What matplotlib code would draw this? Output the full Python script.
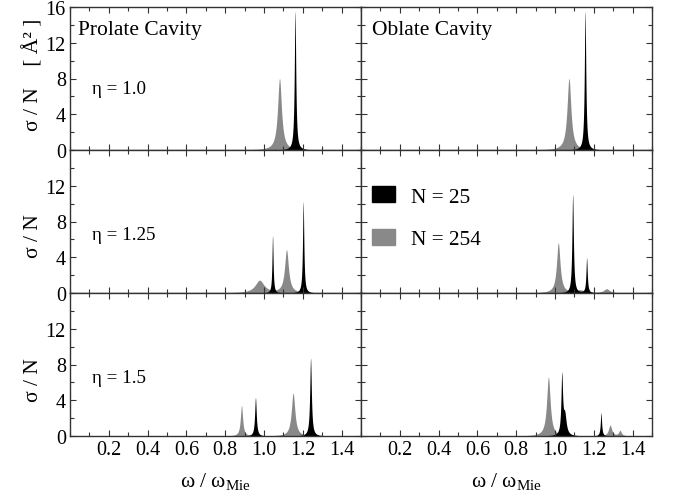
import numpy as np
import matplotlib
matplotlib.use("Agg")
import matplotlib.pyplot as plt
from matplotlib.patches import Patch
from matplotlib.ticker import MultipleLocator, FixedLocator

plt.rcParams['font.family'] = ['Liberation Serif', 'DejaVu Serif']
plt.rcParams['mathtext.fontset'] = 'custom'
plt.rcParams['mathtext.rm'] = 'Liberation Serif'
plt.rcParams['mathtext.it'] = 'Liberation Serif:italic'

# ---- data: resonance peaks (center, height, half-width) ----
row_labels = ["η = 1.0", "η = 1.25", "η = 1.5"]
col_titles = ["Prolate Cavity", "Oblate Cavity"]
series_names = ["N = 25", "N = 254"]

# Prolate, eta = 1.0
pro10_n25_center = [1.160]
pro10_n25_height = [15.5]
pro10_n25_width = [0.0045]
pro10_n254_center = [1.080]
pro10_n254_height = [8.0]
pro10_n254_width = [0.012]

# Oblate, eta = 1.0
obl10_n25_center = [1.155]
obl10_n25_height = [15.5]
obl10_n25_width = [0.0045]
obl10_n254_center = [1.072]
obl10_n254_height = [8.0]
obl10_n254_width = [0.012]

# Prolate, eta = 1.25
pro125_n25_center = [1.044, 1.202]
pro125_n25_height = [6.4, 10.2]
pro125_n25_width = [0.0035, 0.004]
pro125_n254_center = [0.977, 1.116]
pro125_n254_height = [1.4, 4.8]
pro125_n254_width = [0.028, 0.012]

# Oblate, eta = 1.25
obl125_n25_center = [1.091, 1.163]
obl125_n25_height = [11.0, 3.9]
obl125_n25_width = [0.0045, 0.004]
obl125_n254_center = [1.017, 1.130, 1.266]
obl125_n254_height = [5.6, 0.3, 0.45]
obl125_n254_width = [0.011, 0.03, 0.018]

# Prolate, eta = 1.5
pro15_n25_center = [0.956, 1.240]
pro15_n25_height = [4.3, 8.7]
pro15_n25_width = [0.005, 0.005]
pro15_n254_center = [0.884, 1.150]
pro15_n254_height = [3.4, 4.8]
pro15_n254_width = [0.007, 0.011]

# Oblate, eta = 1.5
obl15_n25_center = [1.035, 1.050, 1.237]
obl15_n25_height = [6.6, 2.2, 2.6]
obl15_n25_width = [0.005, 0.009, 0.004]
obl15_n254_center = [0.966, 1.284, 1.335]
obl15_n254_height = [6.6, 1.2, 0.6]
obl15_n254_width = [0.011, 0.010, 0.008]

panels = [
    [(pro10_n25_center, pro10_n25_height, pro10_n25_width,
      pro10_n254_center, pro10_n254_height, pro10_n254_width),
     (obl10_n25_center, obl10_n25_height, obl10_n25_width,
      obl10_n254_center, obl10_n254_height, obl10_n254_width)],
    [(pro125_n25_center, pro125_n25_height, pro125_n25_width,
      pro125_n254_center, pro125_n254_height, pro125_n254_width),
     (obl125_n25_center, obl125_n25_height, obl125_n25_width,
      obl125_n254_center, obl125_n254_height, obl125_n254_width)],
    [(pro15_n25_center, pro15_n25_height, pro15_n25_width,
      pro15_n254_center, pro15_n254_height, pro15_n254_width),
     (obl15_n25_center, obl15_n25_height, obl15_n25_width,
      obl15_n254_center, obl15_n254_height, obl15_n254_width)],
]

omega = np.linspace(0.0, 1.5, 6001)


def spectrum(centers, heights, widths):
    y = np.zeros_like(omega)
    for c, h, w in zip(centers, heights, widths):
        y += h * w**2 / ((omega - c)**2 + w**2)
    return y


BLACK = "#000000"
GRAY = "#898989"
SPINE = "#333333"

fig = plt.figure(figsize=(6.73, 5.02), dpi=100)
W, H = 673.0, 502.0
left0 = 70.0
pw = 291.0
top0 = 8.0
ph = 143.0

axes = []
for r in range(3):
    row = []
    for c in range(2):
        x0 = (left0 + c * pw) / W
        y0 = 1 - (top0 + (r + 1) * ph) / H
        ax = fig.add_axes([x0, y0, pw / W, ph / H])
        cb, hb, wb, cg, hg, wg = panels[r][c]
        ax.fill_between(omega, 0, spectrum(cg, hg, wg), color=GRAY, lw=0)
        ax.fill_between(omega, 0, spectrum(cb, hb, wb), color=BLACK, lw=0)
        ax.set_xlim(0.0, 1.5)
        ax.set_ylim(0, 16)
        ax.xaxis.set_major_locator(FixedLocator([0.2, 0.4, 0.6, 0.8, 1.0, 1.2, 1.4]))
        ax.xaxis.set_minor_locator(MultipleLocator(0.1))
        ax.yaxis.set_major_locator(FixedLocator([0, 4, 8, 12, 16] if r == 0 else [0, 4, 8, 12]))
        ax.yaxis.set_minor_locator(MultipleLocator(2))
        ax.tick_params(which='both', direction='in', top=True, right=True,
                       color=SPINE, width=0.8, labelsize=14.5, pad=3)
        ax.tick_params(which='major', length=4)
        ax.tick_params(which='minor', length=3)
        for s in ax.spines.values():
            s.set_color(SPINE)
            s.set_linewidth(1.0)
        if r < 2:
            ax.tick_params(labelbottom=False)
        else:
            ax.set_xticklabels(["0.2", "0.4", "0.6", "0.8", "1.0", "1.2", "1.4"])
        if c == 1:
            ax.tick_params(labelleft=False)
        row.append(ax)
    axes.append(row)

for c in range(2):
    axes[0][c].text(0.027 if c == 0 else 0.037, 0.84, col_titles[c],
                    transform=axes[0][c].transAxes, fontsize=15.5,
                    ha='left', va='center')
for r in range(3):
    axes[r][0].text(0.077, 0.43 if r == 0 else 0.41, row_labels[r],
                    transform=axes[r][0].transAxes, fontsize=13.7,
                    ha='left', va='center')

handles = [Patch(facecolor=BLACK, edgecolor=BLACK, label=series_names[0]),
           Patch(facecolor=GRAY, edgecolor=GRAY, label=series_names[1])]
axes[1][1].legend(handles=handles, loc='upper left', bbox_to_anchor=(0.038, 0.745),
                  frameon=False, fontsize=15.3, handlelength=1.1, handleheight=0.75,
                  handletextpad=0.75, labelspacing=1.05, borderpad=0, borderaxespad=0)

# y labels
fig.text(33 / W, 1 - 75 / H, "σ / N    [ Å² ]", rotation=90, fontsize=15.5,
         ha='center', va='center')
fig.text(33 / W, 1 - 236 / H, "σ / N", rotation=90, fontsize=15.5,
         ha='center', va='center')
fig.text(33 / W, 1 - 380 / H, "σ / N", rotation=90, fontsize=15.5,
         ha='center', va='center')

# x labels
for c in range(2):
    fig.text((left0 + c * pw + pw / 2) / W, 1 - 482 / H,
             r"ω / ω$_{\mathrm{Mie}}$", fontsize=15.5, ha='center', va='center')

fig.savefig("out.png", dpi=100)
